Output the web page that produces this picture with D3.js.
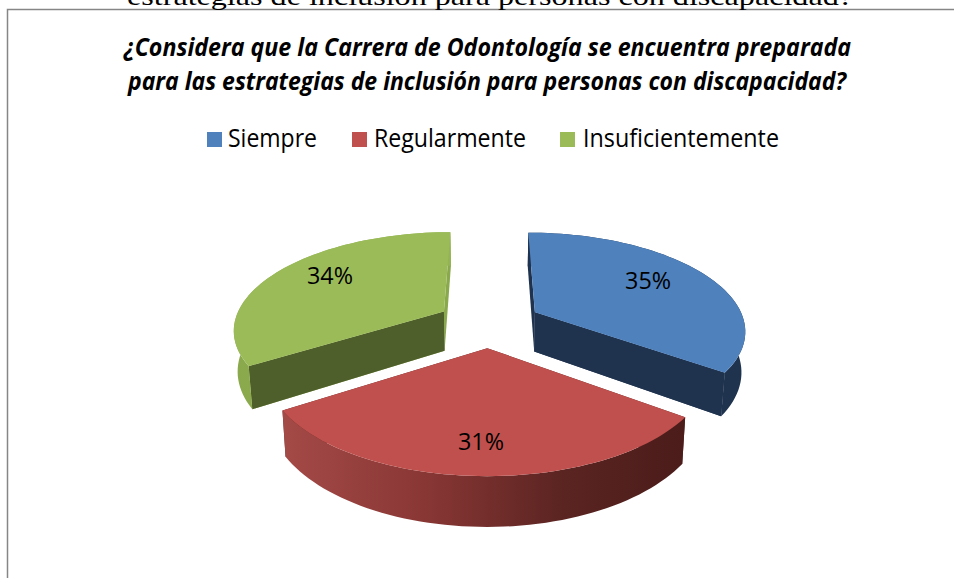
<!DOCTYPE html>
<html><head><meta charset="utf-8">
<script src="https://cdn.jsdelivr.net/npm/d3@7"></script>
<style>html,body{margin:0;padding:0;background:#fff;overflow:hidden}svg{display:block}</style>
</head><body><svg id="c" width="954" height="578"></svg>
<script>
const categories = ["Siempre", "Regularmente", "Insuficientemente"];
const values = [35, 31, 34];
const labels = ["35%", "31%", "34%"];
const titleLines = ["¿Considera que la Carrera de Odontología se encuentra preparada",
                    "para las estrategias de inclusión para personas con discapacidad?"];
const clippedHeading = "estrategias de inclusión para personas con discapacidad?";
const topColors = ["#4f81bd", "#c0504d", "#9bbb59"];
const cutColors = ["#1f334f", "#5a2523", "#4f5f2b"];

// layout
const W = 954, H = 578;
const x0 = 489, y0 = 323, Cx = 210, A = 96.5, persp = 0.17;
const explode = 0.25, depth = 40, bottomScale = 0.985;
const labelR = [0.66, 0.76, 0.68], labelDy = [-6, 0, -8];

const svg = d3.select("#c");
svg.append("rect").attr("width", W).attr("height", H).attr("fill", "#fff");

// gradients for outer walls
const defs = svg.append("defs");
const wallStops = [
  [["0", "#1f334f"], ["1", "#1f334f"]],
  [["0", "#a44a47"], ["0.35", "#893735"], ["0.7", "#5a2421"], ["1", "#4b1c1a"]],
  [["0", "#8aa94c"], ["1", "#94b454"]]
];
wallStops.forEach((s, i) => {
  const g = defs.append("linearGradient").attr("id", "w" + i).attr("x1", 0).attr("x2", 1).attr("y1", 0).attr("y2", 0);
  s.forEach(d => g.append("stop").attr("offset", d[0]).attr("stop-color", d[1]));
});

function project(X, Y, low) {
  const den = 1 - persp * Y;
  const sx = Cx * X / den, sy = A * Y / den;
  return low
    ? [x0 + sx * bottomScale, y0 + sy + depth / den]
    : [x0 + sx, y0 + sy];
}

const arcs = d3.pie().sort(null).value(d => d)(values);
const line = d3.line();

function geom(a) {
  const mid = (a.startAngle + a.endAngle) / 2;
  const ox = explode * Math.sin(mid), oy = -explode * Math.cos(mid);
  const pt = (t, r, low) => project(ox + r * Math.sin(t), oy - r * Math.cos(t), low);
  const ts = d3.range(0, 61).map(i => a.startAngle + (a.endAngle - a.startAngle) * i / 60);
  return {mid, pt, ts};
}

const order = [0, 2, 1];
const layer = svg.append("g");
order.forEach(i => {
  const a = arcs[i], {pt, ts} = geom(a);
  const apex = pt(0, 0, false), apexL = pt(0, 0, true);
  const g = layer.append("g");
  const face = (t, col) => g.append("path")
    .attr("d", line([apex, pt(t, 1, false), pt(t, 1, true), apexL]) + "Z")
    .attr("fill", col);
  // cut faces
  face(a.startAngle, i === 2 ? "#8aa84c" : cutColors[i]);
  face(a.endAngle, i === 2 ? "#8aa84c" : cutColors[i]);
  if (i === 0) face(a.endAngle, cutColors[0]);
  if (i === 2) face(a.startAngle, cutColors[2]);
  // outer wall
  const upper = ts.map(t => pt(t, 1, false));
  const lower = ts.map(t => pt(t, 1, true)).reverse();
  g.append("path").attr("d", line(upper.concat(lower)) + "Z").attr("fill", `url(#w${i})`);
  // top surface
  g.append("path").attr("d", line([apex].concat(upper)) + "Z").attr("fill", topColors[i]);
});

// data labels
arcs.forEach((a, i) => {
  const {mid, pt} = geom(a);
  const p = pt(mid, labelR[i], false);
  svg.append("text").attr("x", p[0]).attr("y", p[1] + labelDy[i])
    .attr("text-anchor", "middle").attr("dominant-baseline", "central")
    .attr("font-family", "'Open Sans', sans-serif").attr("font-size", 24)
    .attr("textLength", 46).attr("lengthAdjust", "spacingAndGlyphs")
    .attr("fill", "#000").text(labels[i]);
});

// frame
svg.append("path").attr("d", `M7.5 ${H}V9.5H${W}`).attr("fill", "none").attr("stroke", "#868686").attr("stroke-width", 1.5);

// clipped heading above the frame
svg.append("text").attr("x", 127).attr("y", 5)
  .attr("font-family", "'Liberation Serif', serif").attr("font-size", 25)
  .attr("textLength", 726).attr("lengthAdjust", "spacingAndGlyphs")
  .attr("fill", "#000").text(clippedHeading);

// title
const titleX = [[124, 727], [128, 718]], titleY = [56, 90];
titleLines.forEach((t, i) => {
  svg.append("text").attr("x", titleX[i][0]).attr("y", titleY[i])
    .attr("font-family", "'Open Sans', sans-serif").attr("font-size", 25)
    .attr("font-weight", 700).attr("font-style", "italic")
    .attr("textLength", titleX[i][1]).attr("lengthAdjust", "spacingAndGlyphs")
    .attr("fill", "#000").text(t);
});

// legend
const legendX = [207, 352, 560], legendTextX = [228, 374, 583], legendTextW = [89, 152, 196];
categories.forEach((c, i) => {
  svg.append("rect").attr("x", legendX[i]).attr("y", 132).attr("width", 15).attr("height", 15).attr("fill", topColors[i]);
  svg.append("text").attr("x", legendTextX[i]).attr("y", 147)
    .attr("font-family", "'Open Sans', sans-serif").attr("font-size", 25)
    .attr("textLength", legendTextW[i]).attr("lengthAdjust", "spacingAndGlyphs")
    .attr("fill", "#000").text(c);
});
</script></body></html>
